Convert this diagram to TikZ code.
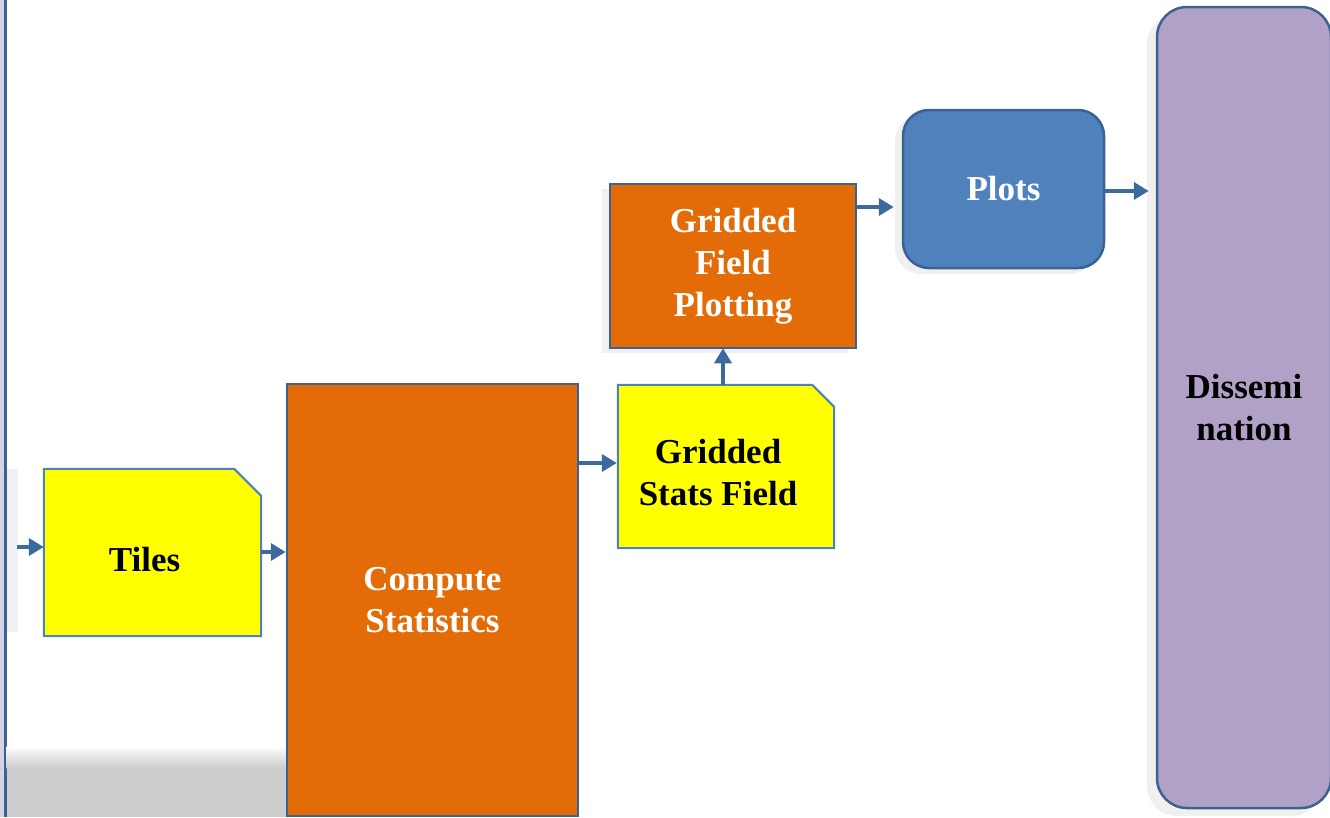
\documentclass[tikz,border=0pt]{standalone}
\usepackage{fontspec}
\setmainfont{Liberation Serif}
\usetikzlibrary{arrows.meta,backgrounds}
\definecolor{orangebox}{HTML}{E36C09}
\definecolor{bluebox}{HTML}{4F81BD}
\definecolor{purplebox}{HTML}{B2A1C7}
\definecolor{darkborder}{HTML}{3B6290}
\definecolor{docborder}{HTML}{4F81BD}
\definecolor{docfill}{HTML}{FFFF00}
\definecolor{arrowcol}{HTML}{3C6A9C}
\definecolor{shadowcol}{HTML}{F0F0F0}
\definecolor{strip}{HTML}{D8D2E6}
\definecolor{grayband}{HTML}{CCCCCC}
\tikzset{
  lbl/.style={font=\fontsize{35}{42}\selectfont\bfseries, align=center, inner sep=0pt},
  procbox/.style={lbl, draw=darkborder, line width=2.5pt, fill=orangebox, text=white},
  roundbox/.style={lbl, draw=darkborder, line width=2.5pt, rounded corners=26pt},
  docbox/.style={lbl, text=black},
  docshape/.style={draw=docborder, line width=2pt, fill=docfill},
  flow/.style={draw=arrowcol, line width=4.5pt, -{Triangle[length=15pt,width=17pt]}},
  shadowbox/.style={fill=shadowcol, draw=none}
}
\begin{document}
\begin{tikzpicture}[x=1pt,y=-1pt]
\useasboundingbox (0,0) rectangle (1330,817);
% left frame
\fill[strip] (0,0) rectangle (3.5,817);
\draw[darkborder, line width=3pt] (5,0) -- (5,817);
\fill[shadowcol] (6.5,469) rectangle (18,632);
% bottom gray band
\shade[top color=white, bottom color=grayband] (6.5,746) rectangle (287,768);
\fill[grayband] (6.5,767.5) rectangle (287,817);

% shadows
\fill[shadowcol] (602,189) rectangle (848,353);
\fill[shadowcol, rounded corners=26pt] (895,115) rectangle (1096,274);
\fill[shadowcol, rounded corners=30pt] (1147,14) rectangle (1322,816);

% nodes
\node[procbox, minimum width=291pt, minimum height=432pt] (cs) at (432.5,600) {Compute\\Statistics};
\node[procbox, minimum width=246pt, minimum height=164pt] (gfp) at (733,266) {Gridded\\Field\\Plotting};
\node[roundbox, fill=bluebox, text=white, minimum width=201pt, minimum height=158pt] (plots) at (1003.5,189) {Plots};
\node[roundbox, fill=purplebox, text=black, rounded corners=30pt, minimum width=174pt, minimum height=801pt] (diss) at (1244,407.5) {Dissemi\\nation};

% document shapes with cut corner
\node[docbox, minimum width=217pt, minimum height=167pt] (tiles) at (152.5,552.5) {};
\node[docbox, minimum width=216pt, minimum height=163pt] (gsf) at (726,466.5) {};
\path[docshape] (tiles.south west) -- (tiles.north west) -- ([xshift=-27pt]tiles.north east) -- ([yshift=-27pt]tiles.north east) -- (tiles.south east) -- cycle;
\path[docshape] (gsf.south west) -- (gsf.north west) -- ([xshift=-22pt]gsf.north east) -- ([yshift=-22pt]gsf.north east) -- (gsf.south east) -- cycle;
\node[docbox] (tilestext) at ([xshift=-8pt,yshift=-7pt]tiles.center) {Tiles};
\node[docbox] (gsftext) at ([xshift=-8pt,yshift=-6pt]gsf.center) {Gridded\\Stats Field};

% connectors
\coordinate (in) at (17,547);
\draw[flow] (in) -- (in -| tiles.west);
\draw[flow] (tiles.east |- 0,552) -- (cs.west |- 0,552);
\draw[flow] (cs.east |- 0,463) -- ([xshift=-1pt]gsf.west |- 0,463);
\draw[flow] (gsf.north -| 723,0) -- ([yshift=1pt]gfp.south -| 723,0);
\draw[flow] (gfp.east |- 0,207) -- ([xshift=-8pt]plots.west |- 0,207);
\draw[flow] (plots.east |- 0,191) -- ([xshift=-7pt]diss.west |- 0,191);
\end{tikzpicture}
\end{document}
